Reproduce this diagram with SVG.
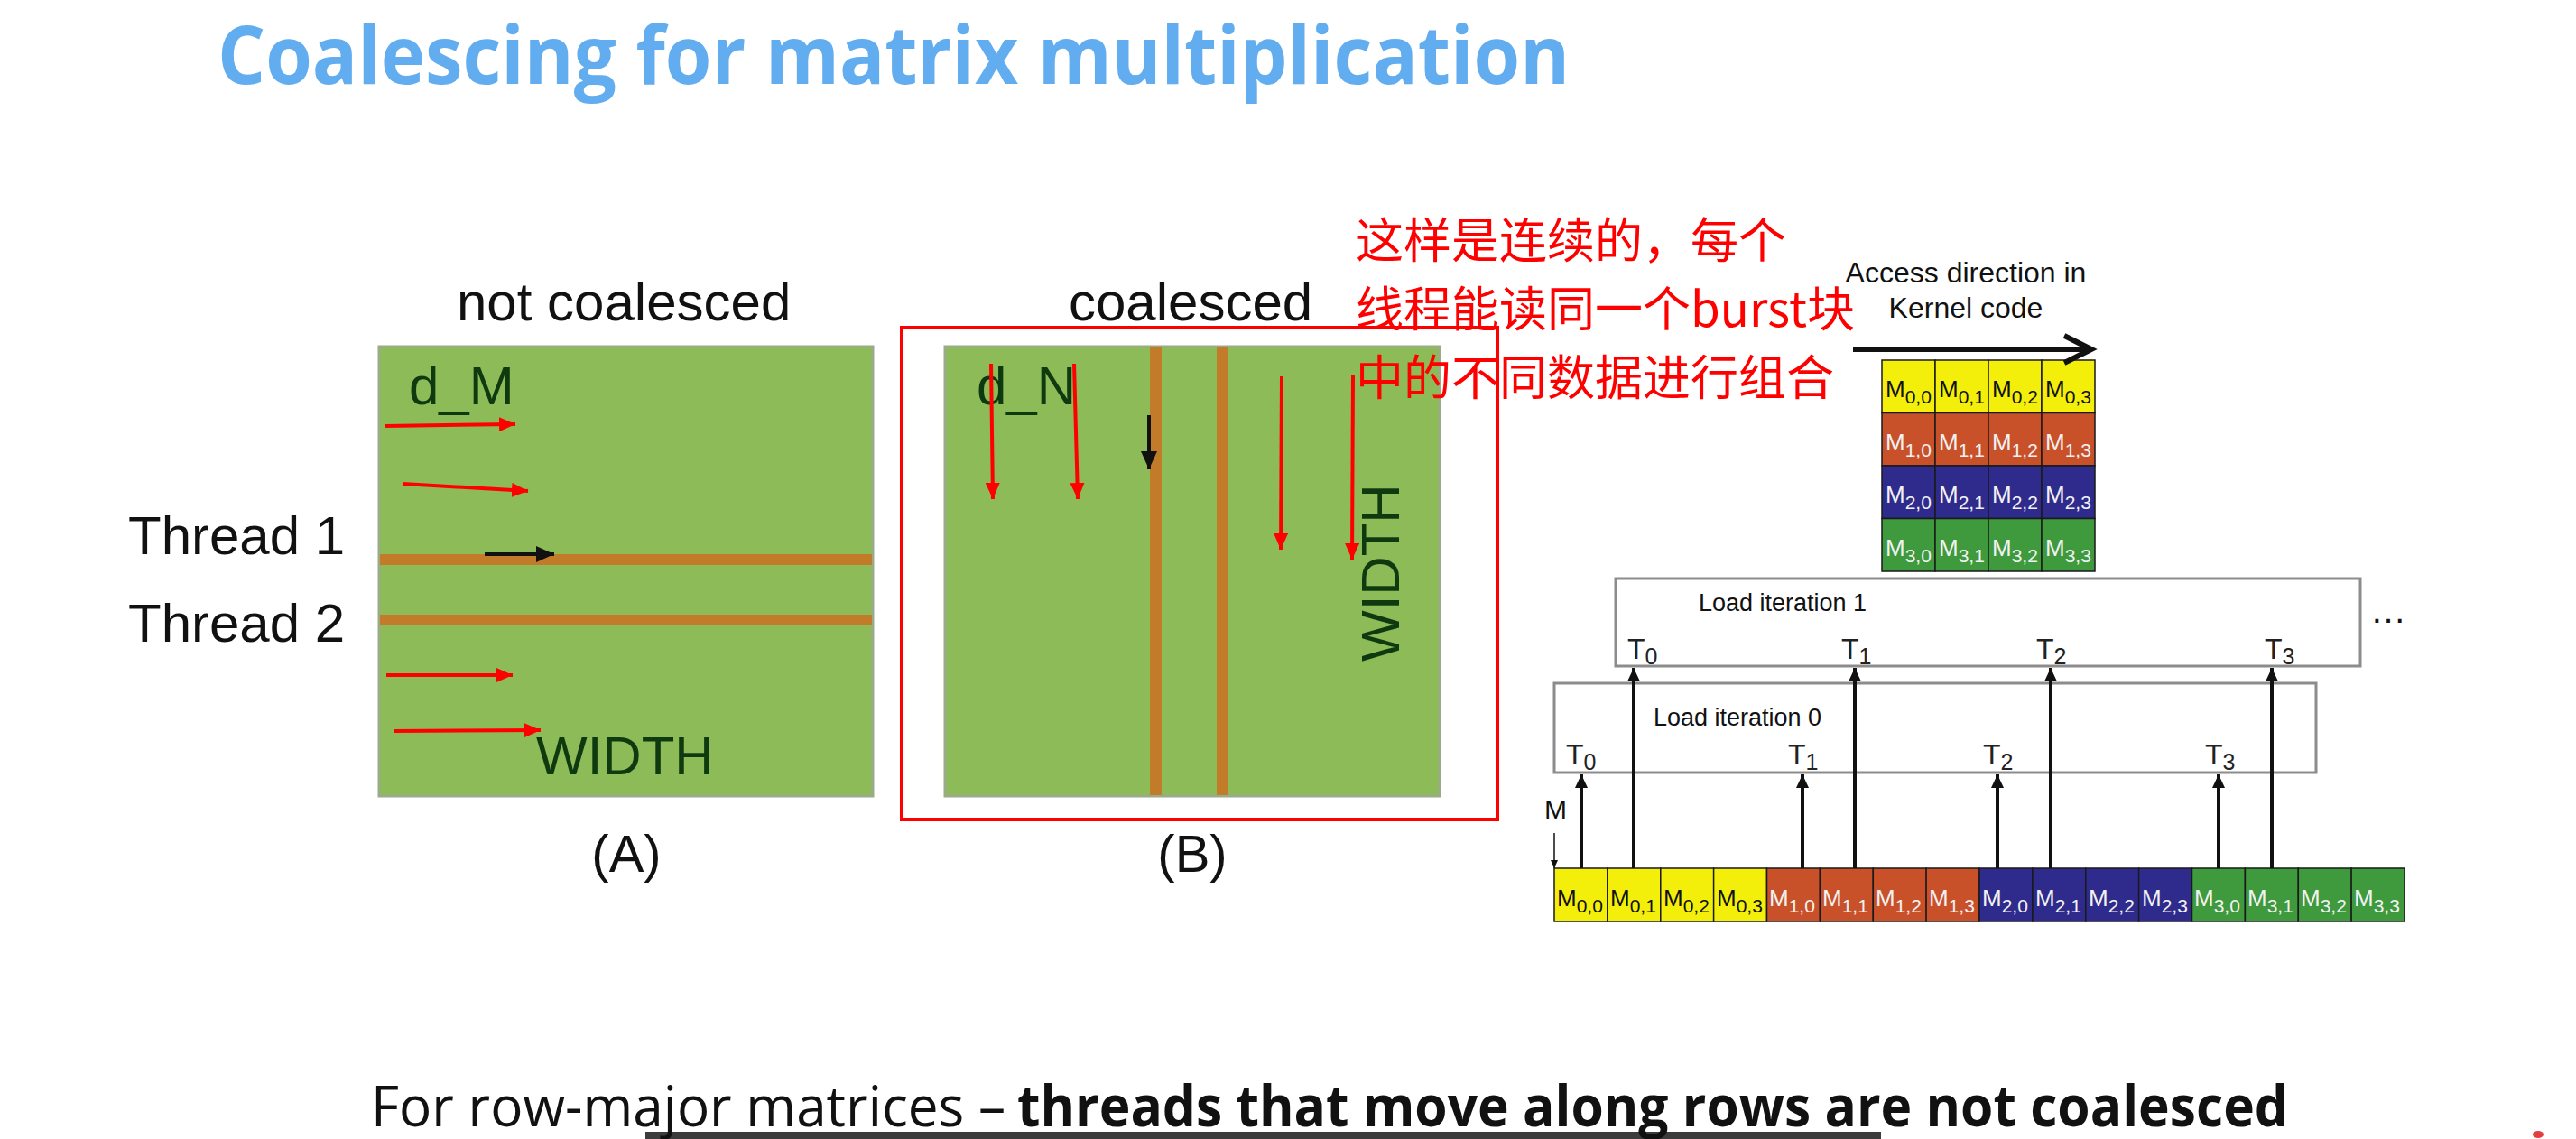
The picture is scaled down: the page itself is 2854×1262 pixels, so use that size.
<svg xmlns="http://www.w3.org/2000/svg" width="2854" height="1262" viewBox="0 0 2854 1262">
<style>
.lbl{font-family:"Liberation Sans",Arial,sans-serif;fill:#111}
.big{font-size:60px}
.dg{fill:#0f3a10}
.panel{fill:#8dbb57;stroke:#9aab8a;stroke-width:3}
.stripe{fill:#c27b28}
.ra{stroke:#ff0000;stroke-width:4;fill:none;marker-end:url(#rh)}
.ba{stroke:#111;stroke-width:4;fill:none;marker-end:url(#bh)}
.la{stroke:#111;stroke-width:4;fill:none;marker-end:url(#lh)}
.box{fill:none;stroke:#8c8c8c;stroke-width:3}
.cell{stroke:#1a1a1a;stroke-width:1.5}
.y{fill:#f4ef0a}.o{fill:#c9512a}.b{fill:#2f2b8c}.g{fill:#3e9a3d}
.m{font-family:"Liberation Sans",Arial,sans-serif;font-size:26px}
.mk{fill:#111}.mw{fill:#f2f2f2}
.sub{font-size:21px}
.t{font-family:"Liberation Sans",Arial,sans-serif;font-size:32px;fill:#222}
.ts{font-size:25px}
.cjk{font-family:"Noto Sans CJK SC",sans-serif;font-size:53px;fill:#ff0000}
</style>
<defs>
<marker id="rh" viewBox="0 0 18 16" refX="18" refY="8" markerWidth="18" markerHeight="16" markerUnits="userSpaceOnUse" orient="auto"><path d="M0,0 L18,8 L0,16 z" fill="#ff0000"/></marker>
<marker id="bh" viewBox="0 0 20 18" refX="20" refY="9" markerWidth="20" markerHeight="18" markerUnits="userSpaceOnUse" orient="auto"><path d="M0,0 L20,9 L0,18 z" fill="#111"/></marker>
<marker id="lh" viewBox="0 0 15 14" refX="15" refY="7" markerWidth="15" markerHeight="14" markerUnits="userSpaceOnUse" orient="auto"><path d="M0,0 L15,7 L0,14 z" fill="#111"/></marker>
<marker id="sh" viewBox="0 0 9 8" refX="9" refY="4" markerWidth="9" markerHeight="8" markerUnits="userSpaceOnUse" orient="auto"><path d="M0,0 L9,4 L0,8 z" fill="#111"/></marker>
</defs>
<rect width="2854" height="1262" fill="#ffffff"/>

<g id="title">
<text x="241" y="93" font-family="'Open Sans',sans-serif" font-weight="700" font-size="90" fill="#62adef" textLength="1498" lengthAdjust="spacingAndGlyphs">Coalescing for matrix multiplication</text>
</g>

<g id="panelA">
<text class="lbl big" x="506" y="355">not coalesced</text>
<rect class="panel" x="420" y="384" width="547" height="498"/>
<rect class="stripe" x="421" y="614" width="545" height="12"/>
<rect class="stripe" x="421" y="681" width="545" height="12"/>
<text class="lbl big dg" x="453" y="448">d_M</text>
<text class="lbl big dg" x="594" y="858">WIDTH</text>
<text class="lbl" x="694" y="966" font-size="58" text-anchor="middle">(A)</text>
</g>

<g id="threads">
<text class="lbl big" x="142" y="614">Thread 1</text>
<text class="lbl big" x="142" y="711">Thread 2</text>
</g>

<g id="panelB">
<text class="lbl big" x="1184" y="355">coalesced</text>
<rect class="panel" x="1047" y="384" width="548" height="498"/>
<rect class="stripe" x="1274" y="385" width="13" height="496"/>
<rect class="stripe" x="1348" y="385" width="13" height="496"/>
<text class="lbl big dg" x="1082" y="448">d_N</text>
<text class="lbl big dg" transform="translate(1550,733) rotate(-90)">WIDTH</text>
<text class="lbl" x="1321" y="966" font-size="58" text-anchor="middle">(B)</text>
<rect x="999" y="363" width="660" height="545" fill="none" stroke="#ff0000" stroke-width="4"/>
</g>

<g id="note">
<text class="cjk" x="1502" y="286">这样是连续的，每个</text>
<text class="cjk" x="1502" y="362">线程能读同一个burst块</text>
<text class="cjk" x="1502" y="438">中的不同数据进行组合</text>
</g>

<g id="access-label">
<text class="lbl" x="2178" y="313" font-size="32" text-anchor="middle" fill="#222">Access direction in</text>
<text class="lbl" x="2178" y="352" font-size="32" text-anchor="middle" fill="#222">Kernel code</text>
</g>

<g id="matrix">
<rect class="cell y" x="2085" y="399" width="59" height="58.5"/><rect class="cell y" x="2144" y="399" width="59" height="58.5"/><rect class="cell y" x="2203" y="399" width="59" height="58.5"/><rect class="cell y" x="2262" y="399" width="59" height="58.5"/>
<rect class="cell o" x="2085" y="457.5" width="59" height="58.5"/><rect class="cell o" x="2144" y="457.5" width="59" height="58.5"/><rect class="cell o" x="2203" y="457.5" width="59" height="58.5"/><rect class="cell o" x="2262" y="457.5" width="59" height="58.5"/>
<rect class="cell b" x="2085" y="516" width="59" height="58.5"/><rect class="cell b" x="2144" y="516" width="59" height="58.5"/><rect class="cell b" x="2203" y="516" width="59" height="58.5"/><rect class="cell b" x="2262" y="516" width="59" height="58.5"/>
<rect class="cell g" x="2085" y="574.5" width="59" height="58.5"/><rect class="cell g" x="2144" y="574.5" width="59" height="58.5"/><rect class="cell g" x="2203" y="574.5" width="59" height="58.5"/><rect class="cell g" x="2262" y="574.5" width="59" height="58.5"/>
<text class="m mk" x="2089" y="440">M<tspan class="sub" dy="7">0,0</tspan></text>
<text class="m mk" x="2148" y="440">M<tspan class="sub" dy="7">0,1</tspan></text>
<text class="m mk" x="2207" y="440">M<tspan class="sub" dy="7">0,2</tspan></text>
<text class="m mk" x="2266" y="440">M<tspan class="sub" dy="7">0,3</tspan></text>
<text class="m mw" x="2089" y="498.5">M<tspan class="sub" dy="7">1,0</tspan></text>
<text class="m mw" x="2148" y="498.5">M<tspan class="sub" dy="7">1,1</tspan></text>
<text class="m mw" x="2207" y="498.5">M<tspan class="sub" dy="7">1,2</tspan></text>
<text class="m mw" x="2266" y="498.5">M<tspan class="sub" dy="7">1,3</tspan></text>
<text class="m mw" x="2089" y="557">M<tspan class="sub" dy="7">2,0</tspan></text>
<text class="m mw" x="2148" y="557">M<tspan class="sub" dy="7">2,1</tspan></text>
<text class="m mw" x="2207" y="557">M<tspan class="sub" dy="7">2,2</tspan></text>
<text class="m mw" x="2266" y="557">M<tspan class="sub" dy="7">2,3</tspan></text>
<text class="m mw" x="2089" y="615.5">M<tspan class="sub" dy="7">3,0</tspan></text>
<text class="m mw" x="2148" y="615.5">M<tspan class="sub" dy="7">3,1</tspan></text>
<text class="m mw" x="2207" y="615.5">M<tspan class="sub" dy="7">3,2</tspan></text>
<text class="m mw" x="2266" y="615.5">M<tspan class="sub" dy="7">3,3</tspan></text>
</g>

<g id="iter1">
<rect class="box" x="1790" y="641" width="825" height="97"/>
<text class="lbl" x="1882" y="677" font-size="27" fill="#222">Load iteration 1</text>
<text class="t" x="1803" y="730">T<tspan class="ts" dy="6">0</tspan></text>
<text class="t" x="2040" y="730">T<tspan class="ts" dy="6">1</tspan></text>
<text class="t" x="2256" y="730">T<tspan class="ts" dy="6">2</tspan></text>
<text class="t" x="2509" y="730">T<tspan class="ts" dy="6">3</tspan></text>
</g>
<g id="ellipsis"><text class="lbl" x="2626" y="690" font-size="40">…</text></g>

<g id="iter0">
<rect class="box" x="1722" y="757" width="844" height="99"/>
<text class="lbl" x="1832" y="804" font-size="27" fill="#222">Load iteration 0</text>
<text class="t" x="1735" y="847">T<tspan class="ts" dy="6">0</tspan></text>
<text class="t" x="1981" y="847">T<tspan class="ts" dy="6">1</tspan></text>
<text class="t" x="2197" y="847">T<tspan class="ts" dy="6">2</tspan></text>
<text class="t" x="2443" y="847">T<tspan class="ts" dy="6">3</tspan></text>
</g>

<g id="mlabel"><text class="lbl" x="1711" y="907" font-size="30" fill="#222">M</text></g>

<g id="memrow">
<rect class="cell y" x="1722" y="962" width="58.9" height="59"/><rect class="cell y" x="1780.9" y="962" width="58.9" height="59"/><rect class="cell y" x="1839.8" y="962" width="58.9" height="59"/><rect class="cell y" x="1898.6" y="962" width="58.9" height="59"/>
<rect class="cell o" x="1957.5" y="962" width="58.9" height="59"/><rect class="cell o" x="2016.4" y="962" width="58.9" height="59"/><rect class="cell o" x="2075.3" y="962" width="58.9" height="59"/><rect class="cell o" x="2134.1" y="962" width="58.9" height="59"/>
<rect class="cell b" x="2193" y="962" width="58.9" height="59"/><rect class="cell b" x="2251.9" y="962" width="58.9" height="59"/><rect class="cell b" x="2310.8" y="962" width="58.9" height="59"/><rect class="cell b" x="2369.6" y="962" width="58.9" height="59"/>
<rect class="cell g" x="2428.5" y="962" width="58.9" height="59"/><rect class="cell g" x="2487.4" y="962" width="58.9" height="59"/><rect class="cell g" x="2546.3" y="962" width="58.9" height="59"/><rect class="cell g" x="2605.1" y="962" width="58.9" height="59"/>
<text class="m mk" x="1725" y="1004">M<tspan class="sub" dy="7">0,0</tspan></text>
<text class="m mk" x="1784" y="1004">M<tspan class="sub" dy="7">0,1</tspan></text>
<text class="m mk" x="1843" y="1004">M<tspan class="sub" dy="7">0,2</tspan></text>
<text class="m mk" x="1902" y="1004">M<tspan class="sub" dy="7">0,3</tspan></text>
<text class="m mw" x="1960" y="1004">M<tspan class="sub" dy="7">1,0</tspan></text>
<text class="m mw" x="2019" y="1004">M<tspan class="sub" dy="7">1,1</tspan></text>
<text class="m mw" x="2078" y="1004">M<tspan class="sub" dy="7">1,2</tspan></text>
<text class="m mw" x="2137" y="1004">M<tspan class="sub" dy="7">1,3</tspan></text>
<text class="m mw" x="2196" y="1004">M<tspan class="sub" dy="7">2,0</tspan></text>
<text class="m mw" x="2255" y="1004">M<tspan class="sub" dy="7">2,1</tspan></text>
<text class="m mw" x="2314" y="1004">M<tspan class="sub" dy="7">2,2</tspan></text>
<text class="m mw" x="2373" y="1004">M<tspan class="sub" dy="7">2,3</tspan></text>
<text class="m mw" x="2431" y="1004">M<tspan class="sub" dy="7">3,0</tspan></text>
<text class="m mw" x="2490" y="1004">M<tspan class="sub" dy="7">3,1</tspan></text>
<text class="m mw" x="2549" y="1004">M<tspan class="sub" dy="7">3,2</tspan></text>
<text class="m mw" x="2608" y="1004">M<tspan class="sub" dy="7">3,3</tspan></text>
</g>

<g id="connectors">
<line class="ra" x1="426" y1="472" x2="571" y2="470"/>
<line class="ra" x1="446" y1="536" x2="585" y2="544"/>
<line class="ra" x1="428" y1="748" x2="568" y2="748"/>
<line class="ra" x1="436" y1="810" x2="599" y2="809"/>
<line class="ra" x1="1098" y1="403" x2="1100" y2="553"/>
<line class="ra" x1="1190" y1="403" x2="1194" y2="553"/>
<line class="ra" x1="1420" y1="417" x2="1419" y2="609"/>
<line class="ra" x1="1499" y1="415" x2="1498" y2="620"/>
<line class="ba" x1="537" y1="614" x2="614" y2="614"/>
<line class="ba" x1="1273" y1="460" x2="1273" y2="520"/>
<line x1="2053" y1="387" x2="2314" y2="387" stroke="#111" stroke-width="6"/>
<polyline points="2287,372 2317,387 2287,402" fill="none" stroke="#111" stroke-width="6"/>
<line class="la" x1="1752" y1="962" x2="1752" y2="858"/>
<line class="la" x1="1997" y1="962" x2="1997" y2="858"/>
<line class="la" x1="2213" y1="962" x2="2213" y2="858"/>
<line class="la" x1="2458" y1="962" x2="2458" y2="858"/>
<line class="la" x1="1810" y1="962" x2="1810" y2="740"/>
<line class="la" x1="2055" y1="962" x2="2055" y2="740"/>
<line class="la" x1="2272" y1="962" x2="2272" y2="740"/>
<line class="la" x1="2517" y1="962" x2="2517" y2="740"/>
<line x1="1722" y1="923" x2="1722" y2="962" stroke="#111" stroke-width="1.5" marker-end="url(#sh)"/>
</g>

<g id="footer">
<rect x="715" y="1254" width="1369" height="8" fill="#3c3c3c"/>
<text x="411" y="1248" font-family="'Open Sans',sans-serif" font-size="63" fill="#111" textLength="703" lengthAdjust="spacingAndGlyphs">For row-major matrices –</text>
<text x="1127" y="1248" font-family="'Open Sans',sans-serif" font-weight="700" font-size="63" fill="#111" textLength="1408" lengthAdjust="spacingAndGlyphs">threads that move along rows are not coalesced</text>
<ellipse cx="2812" cy="1257" rx="6" ry="4" fill="#e04040"/>
</g>
</svg>
